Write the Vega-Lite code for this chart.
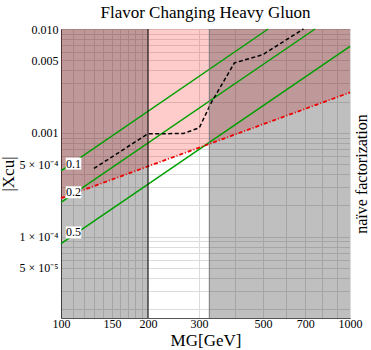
{
  "$schema": "https://vega.github.io/schema/vega-lite/v6.json",
  "width": 289,
  "height": 289,
  "autosize": {"type": "none"},
  "padding": {"left": 61, "top": 29, "right": 21, "bottom": 32},
  "background": "white",
  "title": {"text": "Flavor Changing Heavy Gluon", "font": "Liberation Serif", "fontSize": 17, "fontWeight": "normal", "color": "black", "offset": 1, "anchor": "middle"},
  "config": {
    "view": {"stroke": "#777", "strokeWidth": 1},
    "axis": {"labelFont": "Liberation Serif", "titleFont": "Liberation Serif", "labelColor": "black", "titleColor": "black", "titleFontWeight": "normal", "labelFontSize": 12, "gridColor": "#dcdcdc", "gridWidth": 1, "domainColor": "#555", "labelFlush": false, "labelOverlap": false}
  },
  "datasets": {
    "pink": [{"M": 100, "X": 0.000235, "X2": 0.01}, {"M": 1000, "X": 0.00245, "X2": 0.01}],
    "excluded": [{"M": 100, "M2": 200, "X": 0.0000165, "X2": 0.01}, {"M": 326, "M2": 1000, "X": 0.0000165, "X2": 0.01}],
    "green": [
      {"r": "0.1", "M": 100, "X": 0.000431}, {"r": "0.1", "M": 521, "X": 0.01},
      {"r": "0.2", "M": 100, "X": 0.000214}, {"r": "0.2", "M": 757, "X": 0.01},
      {"r": "0.5", "M": 100, "X": 0.0000857}, {"r": "0.5", "M": 1000, "X": 0.0068}
    ],
    "red": [{"M": 100, "X": 0.000235}, {"M": 1000, "X": 0.00245}],
    "dashed": [
      {"M": 130, "X": 0.000454}, {"M": 200, "X": 0.00098}, {"M": 265, "X": 0.000985},
      {"M": 301, "X": 0.00112}, {"M": 331, "X": 0.00195}, {"M": 398, "X": 0.00471},
      {"M": 499, "X": 0.00566}, {"M": 690, "X": 0.01}
    ],
    "vlines": [{"M": 200, "X": 0.0000165, "X2": 0.01, "kind": "a"}, {"M": 326, "X": 0.0000165, "X2": 0.01, "kind": "b"}],
    "labels": [{"t": "0.1", "M": 110.5, "X": 0.000506}, {"t": "0.2", "M": 110.5, "X": 0.000268}, {"t": "0.5", "M": 110.5, "X": 0.00011}]
  },
  "encoding": {
    "x": {"field": "M", "type": "quantitative", "scale": {"type": "log", "domain": [100, 1000], "nice": false},
      "axis": {"title": "MG[GeV]", "titleFontSize": 17, "titlePadding": 3, "labelPadding": 0, "ticks": false,
        "values": [100, 110, 120, 130, 140, 150, 160, 170, 180, 190, 200, 300, 400, 500, 600, 700, 800, 900, 1000],
        "labelExpr": "indexof([100,150,200,300,500,700,1000], datum.value) >= 0 ? '' + datum.value : ''"}},
    "y": {"field": "X", "type": "quantitative", "scale": {"type": "log", "domain": [0.0000165, 0.01], "nice": false}, "axis": null}
  },
  "resolve": {"axis": {"y": "independent"}},
  "layer": [
    {
      "data": {"name": "pink"},
      "mark": {"type": "area", "color": "red", "opacity": 0.2},
      "encoding": {
        "y": {"field": "X", "type": "quantitative",
          "axis": {"title": "|Xcu|", "titleFontSize": 17, "titlePadding": 2, "labelPadding": 3, "ticks": false,
            "values": [0.00002, 0.00003, 0.00004, 0.00005, 0.00006, 0.00007, 0.00008, 0.00009, 0.0001, 0.0002, 0.0003, 0.0004, 0.0005, 0.0006, 0.0007, 0.0008, 0.0009, 0.001, 0.002, 0.003, 0.004, 0.005, 0.006, 0.007, 0.008, 0.009, 0.01],
            "labelExpr": "abs(datum.value-0.01)<1e-9 ? '0.010' : abs(datum.value-0.005)<1e-9 ? '0.005' : abs(datum.value-0.001)<1e-9 ? '0.001' : abs(datum.value-0.0005)<1e-10 ? '5 × 10⁻⁴' : abs(datum.value-0.0001)<1e-10 ? '1 × 10⁻⁴' : abs(datum.value-0.00005)<1e-11 ? '5 × 10⁻⁵' : ''"}},
        "y2": {"field": "X2"}
      }
    },
    {
      "data": {"name": "excluded"},
      "mark": {"type": "rect", "color": "black", "opacity": 0.25},
      "encoding": {"x2": {"field": "M2"}, "y2": {"field": "X2"}}
    },
    {
      "data": {"name": "green"},
      "mark": {"type": "line", "color": "#00a000", "strokeWidth": 1.5},
      "encoding": {"detail": {"field": "r"}}
    },
    {
      "data": {"name": "red"},
      "mark": {"type": "line", "color": "#ee0000", "strokeWidth": 1.8, "strokeDash": [4, 2, 1, 2]},
      "encoding": {
        "y": {"field": "X", "type": "quantitative",
          "axis": {"orient": "right", "title": "naïve factorization", "titleAngle": 270, "titleFontSize": 16, "labels": false, "ticks": false, "domain": false, "grid": false, "titlePadding": 19}}
      }
    },
    {
      "data": {"name": "dashed"},
      "mark": {"type": "line", "color": "black", "strokeWidth": 1.5, "strokeDash": [4, 2.5]}
    },
    {
      "data": {"name": "vlines"},
      "mark": {"type": "rule", "strokeWidth": 1},
      "encoding": {
        "y2": {"field": "X2"},
        "color": {"field": "kind", "type": "nominal", "scale": {"domain": ["a", "b"], "range": ["black", "#777"]}, "legend": null}
      }
    },
    {
      "data": {"name": "labels"},
      "mark": {"type": "point", "shape": "M-1.3,-1H1.3V1H-1.3Z", "filled": true, "color": "white", "opacity": 1, "size": 144}
    },
    {
      "data": {"name": "labels"},
      "mark": {"type": "text", "font": "Liberation Serif", "fontSize": 12, "color": "black", "align": "center", "baseline": "middle"},
      "encoding": {"text": {"field": "t"}}
    }
  ]
}
